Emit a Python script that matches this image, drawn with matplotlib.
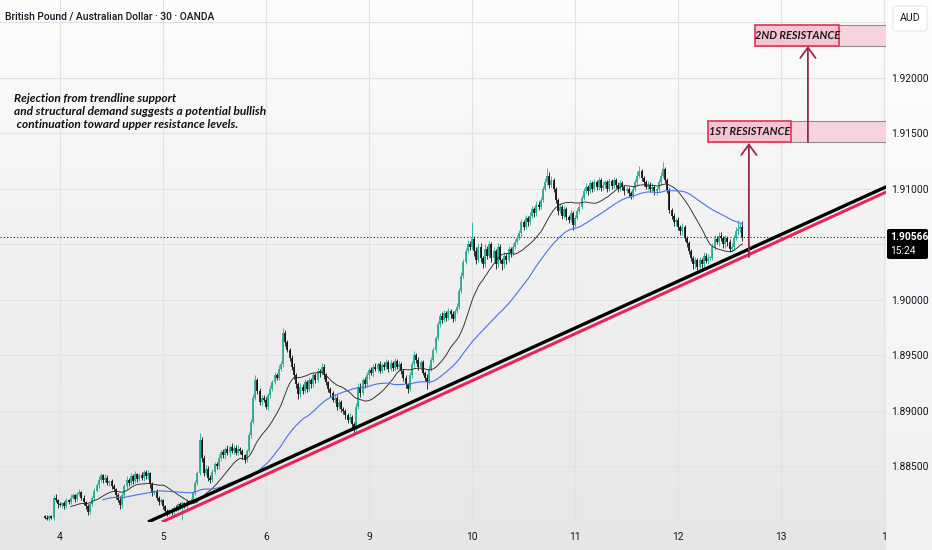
import numpy as np
import pandas as pd
import matplotlib
matplotlib.use("Agg")
import matplotlib.pyplot as plt
from matplotlib.patches import Rectangle, FancyBboxPatch

# GBPAUD 30 min candles, values stored as pips above 1.8800
BASE = 1.88
PIP = 0.0001

close_pips = [
    4, 3, 5, 4, 22, 20, 16, 15, 17, 14, 20, 18, 22, 24, 21, 25, 27, 22, 18, 14,
    9, 16, 22, 28, 33, 38, 42, 38, 40, 35, 37, 32, 30, 24, 20, 15, 24, 32, 38, 35,
    41, 37, 43, 39, 42, 40, 45, 41, 44, 34, 26, 28, 22, 18, 20, 14, 10, 8, 11, 9,
    13, 12, 16, 14, 17, 15, 19, 18, 20, 26, 35, 44, 74, 58, 44, 48, 40, 38, 45, 52,
    50, 58, 63, 60, 66, 62, 68, 64, 67, 62, 66, 64, 60, 56, 64, 78, 90, 112, 128, 118,
    108, 112, 110, 104, 114, 120, 126, 132, 130, 138, 142, 170, 162, 155, 148, 140, 132, 124, 115, 122,
    118, 126, 120, 128, 124, 132, 128, 136, 134, 140, 132, 126, 120, 116, 110, 112, 104, 108, 102, 100,
    96, 92, 95, 88, 85, 104, 122, 116, 128, 124, 132, 137, 134, 140, 138, 142, 136, 141, 140, 144,
    138, 143, 139, 145, 140, 142, 136, 130, 124, 120, 132, 142, 150, 146, 140, 144, 134, 130, 126, 138,
    146, 155, 166, 178, 186, 182, 188, 184, 190, 187, 183, 190, 194, 208, 222, 234, 244, 250, 248, 255,
    244, 236, 248, 238, 232, 246, 240, 250, 238, 244, 232, 248, 236, 232, 240, 236, 246, 242, 248, 252,
    256, 260, 270, 266, 274, 270, 276, 282, 278, 286, 284, 290, 300, 306, 312, 304, 308, 300, 290, 280,
    284, 276, 282, 275, 272, 278, 268, 274, 280, 284, 292, 298, 302, 298, 305, 300, 306, 302, 308, 301,
    304, 306, 300, 307, 303, 308, 304, 300, 305, 302, 298, 300, 296, 294, 300, 306, 312, 316, 310, 306,
    302, 304, 300, 302, 298, 300, 306, 312, 318, 308, 299, 281, 276, 270, 272, 266, 262, 266, 256, 251,
    244, 238, 232, 236, 230, 236, 232, 240, 235, 238, 238, 248, 255, 252, 258, 256, 250, 256, 252, 246,
    248, 256, 262, 264, 266, 256.6,
]
first_open = 5

wick_up = [
    1, 2, 1, 1, 2, 3, 1, 2, 1, 2, 2, 1, 3, 2, 1, 2, 3, 1, 2, 1,
    2, 2, 1, 3, 2, 3, 2, 1, 3, 2, 1, 2, 2, 1, 2, 3, 2, 2, 3, 2,
    3, 2, 3, 1, 2, 3, 2, 2, 3, 1, 2, 1, 2, 1, 2, 1, 1, 2, 1, 2,
    1, 2, 1, 2, 2, 1, 2, 1, 2, 2, 3, 2, 6, 3, 2, 3, 2, 2, 3, 2,
    2, 3, 2, 3, 2, 3, 1, 3, 2, 2, 3, 2, 2, 1, 2, 3, 3, 3, 4, 2,
    3, 2, 2, 3, 2, 3, 2, 3, 2, 3, 3, 5, 3, 2, 2, 2, 3, 2, 2, 3,
    2, 3, 2, 3, 2, 3, 2, 3, 2, 3, 2, 2, 1, 2, 2, 3, 2, 3, 2, 2,
    2, 2, 3, 1, 2, 3, 3, 3, 2, 3, 3, 2, 3, 2, 3, 2, 3, 2, 3, 3,
    2, 3, 2, 3, 2, 3, 2, 2, 2, 1, 3, 3, 4, 2, 3, 2, 2, 2, 3, 3,
    3, 3, 2, 3, 2, 3, 3, 2, 3, 2, 3, 2, 3, 3, 3, 3, 3, 4, 3, 15,
    3, 4, 3, 3, 2, 4, 3, 3, 2, 4, 2, 3, 2, 2, 3, 2, 3, 2, 3, 3,
    3, 3, 3, 2, 3, 2, 3, 3, 2, 3, 3, 3, 3, 4, 7, 3, 4, 2, 2, 2,
    3, 2, 3, 2, 2, 3, 2, 3, 3, 3, 3, 3, 3, 2, 3, 2, 3, 2, 3, 2,
    3, 2, 2, 3, 2, 3, 2, 2, 3, 2, 2, 2, 2, 2, 3, 3, 4, 5, 2, 2,
    2, 3, 2, 3, 2, 2, 3, 3, 6, 2, 2, 2, 2, 2, 2, 3, 2, 3, 2, 2,
    2, 2, 2, 3, 2, 3, 2, 3, 2, 3, 2, 3, 4, 3, 3, 3, 2, 3, 2, 3,
    3, 3, 4, 8, 3, 5,
]
wick_dn = [
    1, 1, 2, 1, 2, 2, 3, 1, 2, 2, 1, 2, 2, 1, 3, 2, 2, 2, 3, 2,
    3, 2, 2, 2, 1, 2, 2, 3, 2, 2, 3, 2, 2, 3, 2, 3, 2, 2, 2, 3,
    2, 3, 2, 3, 2, 2, 3, 2, 2, 3, 3, 2, 2, 3, 2, 2, 3, 3, 2, 3,
    2, 2, 2, 2, 12, 2, 3, 2, 2, 2, 2, 2, 2, 4, 3, 2, 3, 3, 2, 2,
    2, 2, 3, 2, 3, 2, 3, 2, 3, 2, 2, 3, 3, 3, 2, 2, 2, 2, 2, 3,
    3, 3, 2, 2, 3, 2, 2, 2, 2, 2, 2, 2, 3, 2, 3, 3, 3, 3, 4, 2,
    3, 2, 3, 2, 3, 2, 3, 2, 3, 2, 3, 3, 3, 3, 2, 3, 3, 2, 3, 3,
    3, 3, 2, 3, 5, 4, 2, 3, 2, 3, 2, 3, 2, 3, 2, 3, 2, 2, 3, 2,
    3, 2, 3, 2, 2, 3, 3, 3, 3, 4, 2, 2, 2, 3, 3, 3, 2, 3, 6, 2,
    2, 2, 3, 2, 2, 3, 2, 3, 2, 3, 3, 2, 2, 2, 2, 2, 2, 2, 3, 2,
    4, 4, 2, 4, 3, 2, 3, 2, 4, 3, 4, 2, 3, 5, 3, 4, 2, 3, 2, 2,
    2, 2, 2, 3, 2, 3, 2, 2, 3, 2, 3, 2, 2, 2, 2, 3, 2, 3, 3, 3,
    2, 3, 2, 3, 3, 2, 5, 2, 2, 2, 2, 2, 2, 3, 2, 3, 2, 3, 3, 3,
    2, 3, 3, 2, 3, 2, 3, 3, 2, 3, 3, 2, 3, 3, 2, 2, 2, 2, 3, 3,
    2, 3, 3, 2, 3, 3, 2, 2, 2, 3, 3, 3, 3, 3, 3, 3, 3, 3, 3, 3,
    3, 3, 4, 3, 3, 3, 3, 3, 2, 3, 2, 2, 3, 2, 3, 3, 3, 3, 3, 3,
    3, 3, 2, 3, 3, 3,
]

day_labels = ["4", "5", "6", "9", "10", "11", "12", "13", "1"]
day_start_idx = [7, 55, 103, 151, 199, 247, 295, 343, 391]
price_ticks = [1.885, 1.890, 1.895, 1.900, 1.905, 1.910, 1.915, 1.920, 1.925]

# drawings (candle index, price)
black_trend_x = [48.0, 392.0]
black_trend_y = [1.88000, 1.91020]
pink_trend_x = [54.5, 392.0]
pink_trend_y = [1.88000, 1.90973]
res1 = (309, 1.91423, 1.91613)
res2 = (331, 1.92288, 1.92477)
arrow1 = (328, 1.90387, 1.91414)
arrow2 = (355.5, 1.91423, 1.92288)
last_price = 1.90566

UI = "Roboto"

n = len(close_pips)
closes = BASE + np.array(close_pips, dtype=float) * PIP
opens = np.r_[BASE + first_open * PIP, closes[:-1]]
highs = np.maximum(opens, closes) + np.array(wick_up[:n]) * PIP
lows = np.minimum(opens, closes) - np.array(wick_dn[:n]) * PIP
xs = np.arange(n)

W, H = 932, 550
fig = plt.figure(figsize=(W / 100, H / 100), dpi=100)

# background gradient for the whole screenshot
bg = fig.add_axes([0, 0, 1, 1], zorder=-5)
grad = np.linspace(0, 1, 256).reshape(-1, 1)
bg.imshow(grad, aspect="auto", cmap=matplotlib.colors.LinearSegmentedColormap.from_list(
    "bg", ["#fdfdfd", "#f0f0f0", "#e6e6e6"]), extent=[0, 1, 0, 1])
bg.set_axis_off()

ax = fig.add_axes([0, 1 - 522 / H, 886 / W, 522 / H])
ax.patch.set_alpha(0)
ax.set_xlim((0 - 45) / 2.146, (886 - 45) / 2.146)
ax.set_ylim(1.88000, 1.927027)

for s in ax.spines.values():
    s.set_visible(False)
ax.set_xticks(day_start_idx)
ax.set_xticklabels(day_labels)
ax.set_yticks(price_ticks)
ax.set_yticklabels(["" if t in (1.905, 1.925) else f"{t:.5f}" for t in price_ticks])
ax.yaxis.tick_right()
ax.tick_params(axis="both", length=0, labelsize=7.4, colors="#131722")
ax.tick_params(axis="y", pad=4)
ax.tick_params(axis="x", pad=7)
for lab in ax.get_xticklabels() + ax.get_yticklabels():
    lab.set_family(UI)
ax.grid(True, color="#e2e2e2", lw=0.8, zorder=0)

# candles
up = closes >= opens
colors = np.where(up, "#22ab94", "#111111")
body_lo = np.minimum(opens, closes)
body_hi = np.maximum(np.maximum(opens, closes), body_lo + 0.5 * PIP)
ax.vlines(xs, lows, highs, colors=colors, lw=0.6, zorder=3)
ax.vlines(xs, body_lo, body_hi, colors=colors, lw=1.25, zorder=3)

# moving averages
cs = pd.Series(closes)
ax.plot(xs, cs.rolling(20, min_periods=13).mean(), color="#2a2a2a", lw=0.65, zorder=4)
ax.plot(xs, cs.rolling(50, min_periods=28).mean(), color="#4a72e8", lw=0.8, zorder=4)

# trendlines
ax.plot(black_trend_x, black_trend_y, color="#000000", lw=2.4, solid_capstyle="butt", zorder=5)
ax.plot(pink_trend_x, pink_trend_y, color="#e8245c", lw=2.2, solid_capstyle="butt", zorder=5)

# current price line
ax.axhline(last_price, color="#222222", lw=0.8, ls=(0, (1, 2)), zorder=2)

# resistance zones
xmax = ax.get_xlim()[1]
for (x0, lo, hi), label, box_w in [(res1, "1ST RESISTANCE", 38.7), (res2, "2ND RESISTANCE", 39.2)]:
    ax.add_patch(Rectangle((x0, lo), xmax - x0 + 5, hi - lo, facecolor="#f8d3de",
                           edgecolor="#8c8c8c", lw=0.8, zorder=5))
    ax.add_patch(Rectangle((x0, lo), box_w, hi - lo, facecolor="#f5c3d1",
                           edgecolor="#e2405f", lw=1.3, zorder=6))
    ax.text(x0 + box_w / 2, (lo + hi) / 2, label, ha="center", va="center",
            fontsize=7.9, fontweight="bold", fontstyle="italic", family="Lato",
            color="#1a1a1a", zorder=7)

# arrows
for ax_x, y0, y1 in [arrow1, arrow2]:
    ax.annotate("", xy=(ax_x, y1), xytext=(ax_x, y0),
                arrowprops=dict(arrowstyle="->,head_length=0.75,head_width=0.55",
                                color="#962a4c", lw=1.3, mutation_scale=10,
                                shrinkA=0, shrinkB=0), zorder=6)

# right price column
fig.add_artist(Rectangle((886 / W, 0), 46 / W, 1, transform=fig.transFigure,
                         facecolor="white", alpha=0.45, lw=0, zorder=-1))
fig.add_artist(FancyBboxPatch((887 / W, 1 - 259 / H), 41 / W, 30 / H,
                              boxstyle="round,pad=0,rounding_size=0.003",
                              transform=fig.transFigure, facecolor="#000000",
                              lw=0, zorder=2))
fig.text(890 / W, 1 - 237 / H, f"{last_price:.5f}", color="white", fontsize=7.4,
         fontweight="bold", family=UI, va="center", ha="left", zorder=3)
fig.text(890 / W, 1 - 251 / H, "15:24", color="white", fontsize=7.4,
         family=UI, va="center", ha="left", zorder=3)
fig.add_artist(FancyBboxPatch((893 / W, 1 - 31 / H), 34 / W, 25 / H,
                              boxstyle="round,pad=0,rounding_size=0.004",
                              transform=fig.transFigure, facecolor="white",
                              edgecolor="#e6e6e6", lw=0.8, zorder=2))
fig.text(910 / W, 1 - 18 / H, "AUD", color="#131722", fontsize=7.6, family=UI,
         ha="center", va="center", zorder=3)

# title and note
fig.text(5 / W, 1 - 17 / H, "British Pound / Australian Dollar · 30 · OANDA",
         fontsize=7.4, family=UI, fontweight="medium", color="#131722",
         va="center", ha="left")
fig.text(14 / W, 1 - 93 / H,
         "Rejection from trendline support\n"
         "and structural demand suggests a potential bullish\n"
         " continuation toward upper resistance levels.",
         fontsize=8.6, fontweight="bold", fontstyle="italic", family="Lato",
         color="#111111", va="top", ha="left", linespacing=1.2)

fig.savefig("out.png", dpi=100)
